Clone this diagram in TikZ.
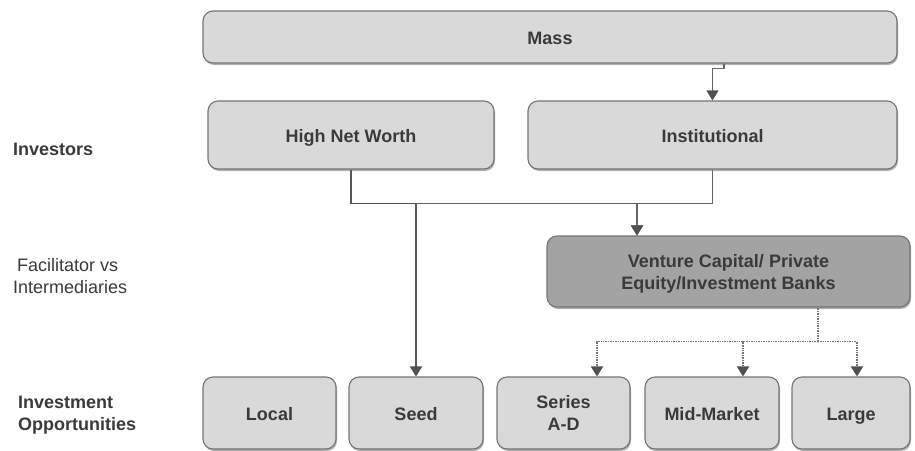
\documentclass[tikz,border=0pt]{standalone}
\usepackage{fontspec}
\setmainfont{Liberation Sans}
\usetikzlibrary{arrows.meta,shadows}

\definecolor{boxfill}{HTML}{D9D9D9}
\definecolor{vcfill}{HTML}{A3A3A3}
\definecolor{boxline}{HTML}{747474}
\definecolor{txt}{HTML}{3A3A3A}
\definecolor{wire}{HTML}{666666}
\definecolor{tip}{HTML}{505050}

\tikzset{
  box/.style={draw=boxline, fill=boxfill, line width=1.1pt, rounded corners=10pt,
    inner sep=0pt, align=center, text=txt,
    font=\fontsize{18}{22}\selectfont\bfseries,
    drop shadow={shadow xshift=1pt, shadow yshift=-2pt, opacity=0.3, fill=black}},
  oneline/.style={text height=16pt, text depth=1pt},
  sidelabel/.style={anchor=west, align=left, inner sep=0pt, text=txt,
    font=\fontsize{18}{22}\selectfont},
  conn/.style={draw=wire, line width=1.1pt,
    -{Triangle[length=10pt,width=12pt,color=tip,fill=tip]}},
  connthick/.style={conn, line width=1.8pt, draw=wire!85!black},
  dotconn/.style={conn, line width=1.8pt, dash pattern=on 1pt off 0.7pt, draw=wire!90},
}

\begin{document}
\begin{tikzpicture}[x=1pt, y=-1pt]
  \useasboundingbox (0,0) rectangle (915,450);

  % investor tier
  \node[box, oneline, minimum width=694pt, minimum height=52pt] (mass) at (550,37) {Mass};
  \node[box, oneline, minimum width=286pt, minimum height=68pt] (hnw)  at (351,135) {High Net Worth};
  \node[box, oneline, minimum width=369pt, minimum height=68pt] (inst) at (712.5,135) {Institutional};

  % intermediaries
  \node[box, fill=vcfill, minimum width=363pt, minimum height=71pt] (vc) at (728.5,271.5)
    {\rule{0pt}{18pt}Venture Capital/ Private\\Equity/Investment Banks};

  % investment opportunities
  \node[box, oneline, minimum width=133pt, minimum height=72pt] (local)  at (269.5,413) {Local};
  \node[box, oneline, minimum width=134pt, minimum height=72pt] (seed)   at (416,413) {Seed};
  \node[box, minimum width=133pt, minimum height=72pt] (series) at (563.5,413) {Series\\A-D};
  \node[box, oneline, minimum width=134pt, minimum height=72pt] (mid)    at (712,413) {Mid-Market};
  \node[box, oneline, minimum width=118pt, minimum height=72pt] (large)  at (851,413) {Large};

  % row labels
  \node[sidelabel, font=\fontsize{18}{22}\selectfont\bfseries] (lblinv) at (13,149) {Investors};
  \node[sidelabel] (lblfac) at (13,276) {\hspace{4pt}Facilitator vs\\Intermediaries};
  \node[sidelabel, font=\fontsize{18}{22}\selectfont\bfseries] (lblopp) at (18,415)
    {Investment\\Opportunities};

  % connectors
  \draw[conn] ([xshift=174pt]mass.south) -- ++(0,5) -| (inst.north);
  \draw[conn] (inst.south) -- ++(0,34) -| ([xshift=-91.5pt]vc.north);
  \draw[conn] (hnw.south) -- ++(0,34) -| ([xshift=-91.5pt]vc.north);
  \draw[connthick] (hnw.south) -- ++(0,34) -| (seed.north);

  \draw[dotconn] ([xshift=89.5pt]vc.south) -- ++(0,34) -| ([xshift=33.5pt]series.north);
  \draw[dotconn] ([xshift=89.5pt]vc.south) -- ++(0,34) -| ([xshift=31pt]mid.north);
  \draw[dotconn] ([xshift=89.5pt]vc.south) -- ++(0,34) -| ([xshift=6pt]large.north);
\end{tikzpicture}
\end{document}
